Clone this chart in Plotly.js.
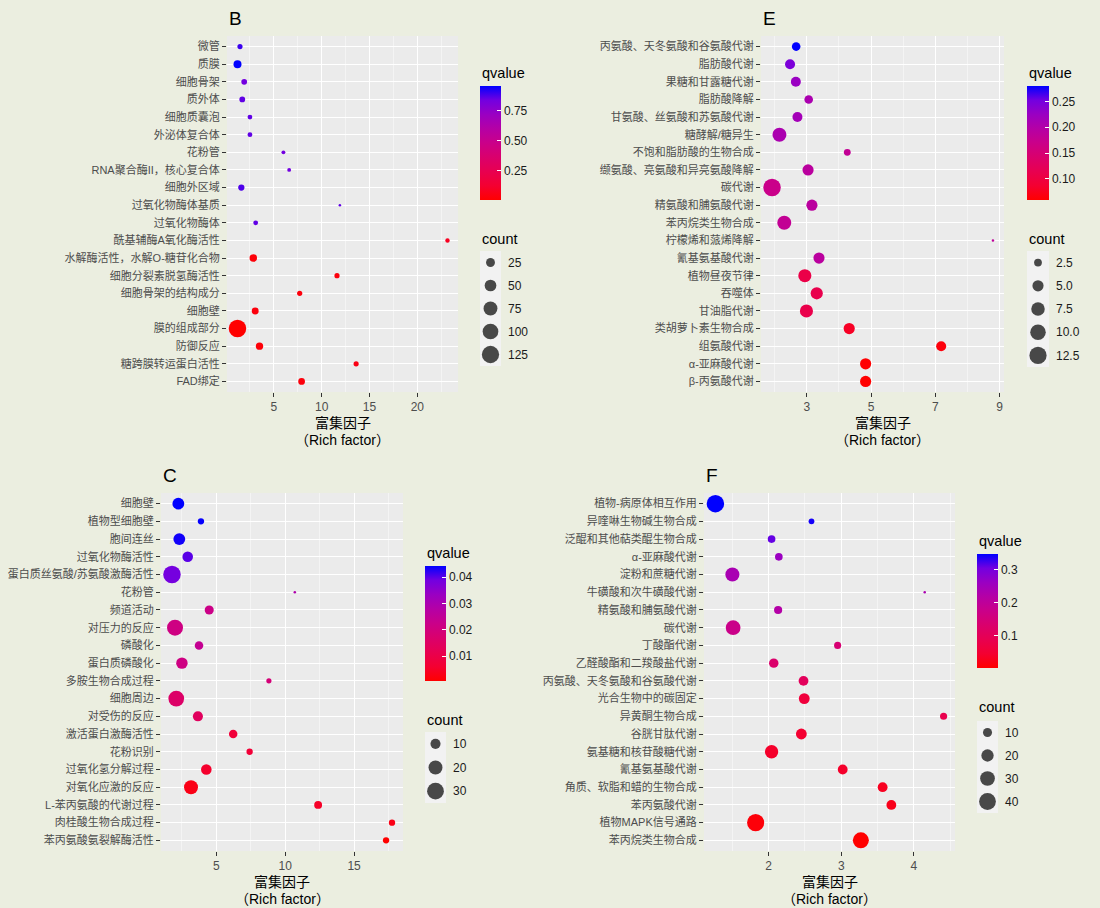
<!DOCTYPE html>
<html>
<head>
<meta charset="utf-8">
<script src="https://cdn.plot.ly/plotly-3.0.1.min.js"></script>
<style>
  html, body { margin: 0; padding: 0; background: #EBEEE0; }
  #chart { width: 1100px; height: 908px; }
</style>
</head>
<body>
<div id="chart"></div>
<script>
// ---------- Panel B : GO terms ----------
const categoriesB = ['微管','质膜','细胞骨架','质外体','细胞质囊泡','外泌体复合体','花粉管','RNA聚合酶II，核心复合体','细胞外区域','过氧化物酶体基质','过氧化物酶体','酰基辅酶A氧化酶活性','水解酶活性，水解O-糖苷化合物','细胞分裂素脱氢酶活性','细胞骨架的结构成分','细胞壁','膜的组成部分','防御反应','糖跨膜转运蛋白活性','FAD绑定'];
const richB  = [1.46, 1.2, 1.9, 1.7, 2.5, 2.5, 6.0, 6.6, 1.6, 11.9, 3.1, 23.15, 2.85, 11.6, 7.7, 3.05, 1.2, 3.5, 13.6, 7.9];
const countB = [6, 19, 8, 8, 5, 5, 3, 3, 10, 2, 5, 4, 16, 6, 6, 13, 129, 15, 6, 12];
const qB     = [0.90, 0.96, 0.84, 0.86, 0.86, 0.86, 0.84, 0.84, 0.88, 0.86, 0.86, 0.08, 0.02, 0.03, 0.03, 0.03, 0.0003, 0.02, 0.05, 0.03];
const qTicksB = [0.25, 0.50, 0.75];
const countKeysB = [25, 50, 75, 100, 125];
const countKeyTextB = ['25', '50', '75', '100', '125'];

// ---------- Panel E : KEGG pathways ----------
const categoriesE = ['丙氨酸、天冬氨酸和谷氨酸代谢','脂肪酸代谢','果糖和甘露糖代谢','脂肪酸降解','甘氨酸、丝氨酸和苏氨酸代谢','糖酵解/糖异生','不饱和脂肪酸的生物合成','缬氨酸、亮氨酸和异亮氨酸降解','碳代谢','精氨酸和脯氨酸代谢','苯丙烷类生物合成','柠檬烯和蒎烯降解','氰基氨基酸代谢','植物昼夜节律','吞噬体','甘油脂代谢','类胡萝卜素生物合成','组氨酸代谢','α-亚麻酸代谢','β-丙氨酸代谢'];
const richE  = [2.67, 2.48, 2.66, 3.06, 2.71, 2.15, 4.26, 3.04, 1.92, 3.16, 2.30, 8.79, 3.38, 2.94, 3.31, 2.99, 4.32, 7.18, 4.83, 4.83];
const countE = [3, 4, 4, 3, 4, 8, 2, 5, 13, 5, 8, 1, 5, 7, 6, 7, 5, 4, 5, 5];
const qE     = [0.28, 0.246, 0.225, 0.207, 0.215, 0.207, 0.18, 0.19, 0.17, 0.19, 0.18, 0.185, 0.19, 0.107, 0.112, 0.11, 0.08, 0.065, 0.06, 0.059];
const qTicksE = [0.10, 0.15, 0.20, 0.25];
const countKeysE = [2.5, 5.0, 7.5, 10.0, 12.5];
const countKeyTextE = ['2.5', '5.0', '7.5', '10.0', '12.5'];

// ---------- Panel C : GO terms ----------
const categoriesC = ['细胞壁','植物型细胞壁','胞间连丝','过氧化物酶活性','蛋白质丝氨酸/苏氨酸激酶活性','花粉管','频道活动','对压力的反应','磷酸化','蛋白质磷酸化','多胺生物合成过程','细胞周边','对受伤的反应','激活蛋白激酶活性','花粉识别','过氧化氢分解过程','对氧化应激的反应','L-苯丙氨酸的代谢过程','肉桂酸生物合成过程','苯丙氨酸氨裂解酶活性'];
const richC  = [2.25, 3.89, 2.32, 2.93, 1.79, 10.7, 4.49, 2.01, 3.75, 2.51, 8.82, 2.1, 3.67, 6.23, 7.42, 4.28, 3.17, 12.39, 17.75, 17.32];
const countC = [14, 4, 14, 11, 33, 2, 8, 27, 7, 13, 3, 26, 10, 7, 4, 11, 20, 6, 4, 4];
const qC     = [0.0443, 0.044, 0.0435, 0.040, 0.0386, 0.029, 0.022, 0.021, 0.024, 0.021, 0.019, 0.016, 0.014, 0.0075, 0.007, 0.0055, 0.003, 0.005, 0.003, 0.0005];
const qTicksC = [0.01, 0.02, 0.03, 0.04];
const countKeysC = [10, 20, 30];
const countKeyTextC = ['10', '20', '30'];

// ---------- Panel F : KEGG pathways ----------
const categoriesF = ['植物-病原体相互作用','异喹啉生物碱生物合成','泛醌和其他萜类醌生物合成','α-亚麻酸代谢','淀粉和蔗糖代谢','牛磺酸和次牛磺酸代谢','精氨酸和脯氨酸代谢','碳代谢','丁酸酯代谢','乙醛酸酯和二羧酸盐代谢','丙氨酸、天冬氨酸和谷氨酸代谢','光合生物中的碳固定','异黄酮生物合成','谷胱甘肽代谢','氨基糖和核苷酸糖代谢','氰基氨基酸代谢','角质、软脂和蜡的生物合成','苯丙氨酸代谢','植物MAPK信号通路','苯丙烷类生物合成'];
const richF  = [1.266, 2.59, 2.04, 2.14, 1.50, 4.15, 2.13, 1.51, 2.95, 2.07, 2.48, 2.49, 4.41, 2.45, 2.04, 3.02, 3.57, 3.69, 1.82, 3.27];
const countF = [44, 4, 7, 7, 27, 2, 8, 30, 6, 11, 12, 15, 6, 15, 24, 12, 12, 12, 42, 36];
const qF     = [0.348, 0.34, 0.31, 0.26, 0.237, 0.235, 0.22, 0.175, 0.14, 0.13, 0.105, 0.06, 0.085, 0.045, 0.04, 0.04, 0.03, 0.025, 0.01, 0.002];
const qTicksF = [0.1, 0.2, 0.3];
const countKeysF = [10, 20, 30, 40];
const countKeyTextF = ['10', '20', '30', '40'];

const xTitle1 = '富集因子';
const xTitle2 = '（Rich factor）';

// ---------- drawing ----------
const W = 1100, H = 908;
const fx = px => px / W;
const fy = py => 1 - py / H;
const FONT = "'Liberation Sans', Arial, 'Noto Sans CJK SC', sans-serif";

// red (low) -> blue (high), interpolated through CIELAB
const SCALE = [
  [0, 'rgb(255,0,0)'], [0.125, 'rgb(244,0,49)'], [0.25, 'rgb(232,0,80)'],
  [0.375, 'rgb(218,0,108)'], [0.5, 'rgb(202,0,137)'], [0.625, 'rgb(181,0,165)'],
  [0.75, 'rgb(154,0,194)'], [0.875, 'rgb(115,0,224)'], [1, 'rgb(0,0,255)']
];

// point diameter grows with the square root of the rescaled count
function diameter(c, lo, hi) {
  return 2.5 + 15 * Math.sqrt((c - lo) / (hi - lo));
}

// pixel boxes: plot [x0,x1,y0,y1], colour bar, size-key column
const panels = [
  { name: 'B', cats: categoriesB, rich: richB, count: countB, q: qB, qTicks: qTicksB, qFmt: '.2f',
    keys: countKeysB, keyText: countKeyTextB, dtick: 5, tick0: 0,
    plot: [227, 458, 36, 392], titleY: 18.8, axT: [423, 440],
    cb: [480, 501, 86, 200], qTitleY: 72.7, keyBox: [480, 501, 251, 366], cTitleY: 239 },
  { name: 'E', cats: categoriesE, rich: richE, count: countE, q: qE, qTicks: qTicksE, qFmt: '.2f',
    keys: countKeysE, keyText: countKeyTextE, dtick: 2, tick0: 1,
    plot: [761, 1004, 36, 392], titleY: 18.8, axT: [423, 440],
    cb: [1027, 1049, 86, 200], qTitleY: 72.7, keyBox: [1027, 1049, 251, 367], cTitleY: 239 },
  { name: 'C', cats: categoriesC, rich: richC, count: countC, q: qC, qTicks: qTicksC, qFmt: '.2f',
    keys: countKeysC, keyText: countKeyTextC, dtick: 5, tick0: 0,
    plot: [161, 403, 493, 851], titleY: 476, axT: [882, 899],
    cb: [425, 446, 566, 681], qTitleY: 553.3, keyBox: [425, 446, 732, 803], cTitleY: 720 },
  { name: 'F', cats: categoriesF, rich: richF, count: countF, q: qF, qTicks: qTicksF, qFmt: '.1f',
    keys: countKeysF, keyText: countKeyTextF, dtick: 1, tick0: 0,
    plot: [704, 955, 493, 851], titleY: 476, axT: [882, 899],
    cb: [977, 998, 554, 668], qTitleY: 541, keyBox: [977, 998, 721, 813], cTitleY: 707.3 }
];

const data = [];
const layout = {
  width: W, height: H,
  margin: { l: 0, r: 0, t: 0, b: 0 },
  paper_bgcolor: '#EBEEE0',
  plot_bgcolor: '#EBEBEB',
  font: { family: FONT, color: '#1A1A1A' },
  showlegend: false,
  annotations: [],
  shapes: []
};

panels.forEach((p, i) => {
  const n = i + 1;
  const sfx = n === 1 ? '' : String(n);
  const xa = 'x' + sfx, ya = 'y' + sfx;
  const ca = 'coloraxis' + sfx;
  const lo = Math.min(...p.count), hi = Math.max(...p.count);
  const rLo = Math.min(...p.rich), rHi = Math.max(...p.rich);
  const span = rHi - rLo;

  data.push({
    type: 'scatter', mode: 'markers',
    x: p.rich, y: p.cats, xaxis: xa, yaxis: ya,
    marker: {
      size: p.count.map(c => diameter(c, lo, hi)),
      color: p.q, coloraxis: ca, line: { width: 0 }, opacity: 1
    },
    hovertemplate: '%{y}<br>%{x}<extra></extra>'
  });

  layout['xaxis' + sfx] = {
    domain: [fx(p.plot[0]), fx(p.plot[1])], anchor: ya,
    range: [rLo - 0.05 * span, rHi + 0.05 * span],
    tick0: p.tick0, dtick: p.dtick,
    ticks: 'outside', ticklen: 4, tickwidth: 1, tickcolor: '#333333',
    tickfont: { size: 12, color: '#4D4D4D', family: FONT },
    showgrid: true, gridcolor: '#FFFFFF', gridwidth: 1,
    minor: { tick0: p.tick0, dtick: p.dtick / 2, showgrid: true, gridcolor: '#F4F4F4', gridwidth: 0.5 },
    zeroline: false, showline: false, fixedrange: true
  };
  layout['yaxis' + sfx] = {
    domain: [fy(p.plot[3]), fy(p.plot[2])], anchor: xa,
    type: 'category', categoryorder: 'array', categoryarray: p.cats,
    range: [p.cats.length - 0.4, -0.6],
    ticks: 'outside', ticklen: 4, tickwidth: 1, tickcolor: '#333333',
    tickfont: { size: 11, color: '#4D4D4D', family: FONT },
    showgrid: true, gridcolor: '#FFFFFF', gridwidth: 1,
    zeroline: false, showline: false, fixedrange: true
  };

  layout[ca] = {
    colorscale: SCALE,
    colorbar: {
      x: fx(p.cb[0]), xanchor: 'left', xpad: 0,
      y: fy(p.cb[2]), yanchor: 'top', ypad: 0,
      len: p.cb[3] - p.cb[2], lenmode: 'pixels',
      thickness: p.cb[1] - p.cb[0], thicknessmode: 'pixels',
      outlinewidth: 0, borderwidth: 0,
      ticks: 'inside', ticklen: 4, tickwidth: 1, tickcolor: '#FFFFFF',
      tickvals: p.qTicks, tickformat: p.qFmt,
      tickfont: { size: 12, color: '#1A1A1A', family: FONT }
    }
  };

  // size key drawn on its own small axis pair
  const kx = 'x' + (n + 4), ky = 'y' + (n + 4);
  data.push({
    type: 'scatter', mode: 'markers',
    x: p.keys.map(() => 0.5), y: p.keyText, xaxis: kx, yaxis: ky,
    marker: { size: p.keys.map(v => diameter(v, lo, hi)), color: '#000000', line: { width: 0 } },
    hoverinfo: 'skip'
  });
  layout['xaxis' + (n + 4)] = {
    domain: [fx(p.keyBox[0]), fx(p.keyBox[1])], anchor: ky, range: [0, 1],
    showgrid: false, zeroline: false, showticklabels: false, ticks: '', fixedrange: true
  };
  layout['yaxis' + (n + 4)] = {
    domain: [fy(p.keyBox[3]), fy(p.keyBox[2])], anchor: kx, side: 'right',
    type: 'category', categoryorder: 'array', categoryarray: p.keyText,
    range: [p.keyText.length - 0.5, -0.5],
    showgrid: false, zeroline: false, ticks: '', ticklabelstandoff: 6,
    tickfont: { size: 12, color: '#1A1A1A', family: FONT }, fixedrange: true
  };
  layout.shapes.push({
    type: 'rect', xref: kx + ' domain', yref: ky + ' domain',
    x0: 0, x1: 1, y0: 0, y1: 1, fillcolor: '#F2F2F2', line: { width: 0 }, layer: 'below'
  });

  // panel letter, axis title, legend titles
  layout.annotations.push(
    { text: p.name, xref: 'paper', yref: 'paper', x: fx(p.plot[0]), y: fy(p.titleY),
      xanchor: 'left', yanchor: 'middle', showarrow: false,
      font: { size: 19, color: '#000000', family: FONT } },
    { text: xTitle1, xref: 'paper', yref: 'paper', x: fx((p.plot[0] + p.plot[1]) / 2), y: fy(p.axT[0]),
      xanchor: 'center', yanchor: 'middle', showarrow: false,
      font: { size: 14, color: '#000000', family: FONT } },
    { text: xTitle2, xref: 'paper', yref: 'paper', x: fx((p.plot[0] + p.plot[1]) / 2), y: fy(p.axT[1]),
      xanchor: 'center', yanchor: 'middle', showarrow: false,
      font: { size: 14, color: '#000000', family: FONT } },
    { text: 'qvalue', xref: 'paper', yref: 'paper', x: fx(p.cb[0]), y: fy(p.qTitleY),
      xanchor: 'left', yanchor: 'middle', showarrow: false,
      font: { size: 14.5, color: '#000000', family: FONT } },
    { text: 'count', xref: 'paper', yref: 'paper', x: fx(p.keyBox[0]), y: fy(p.cTitleY),
      xanchor: 'left', yanchor: 'middle', showarrow: false,
      font: { size: 14.5, color: '#000000', family: FONT } }
  );
});

Plotly.newPlot('chart', data, layout, { displayModeBar: false, responsive: false });
</script>
</body>
</html>
